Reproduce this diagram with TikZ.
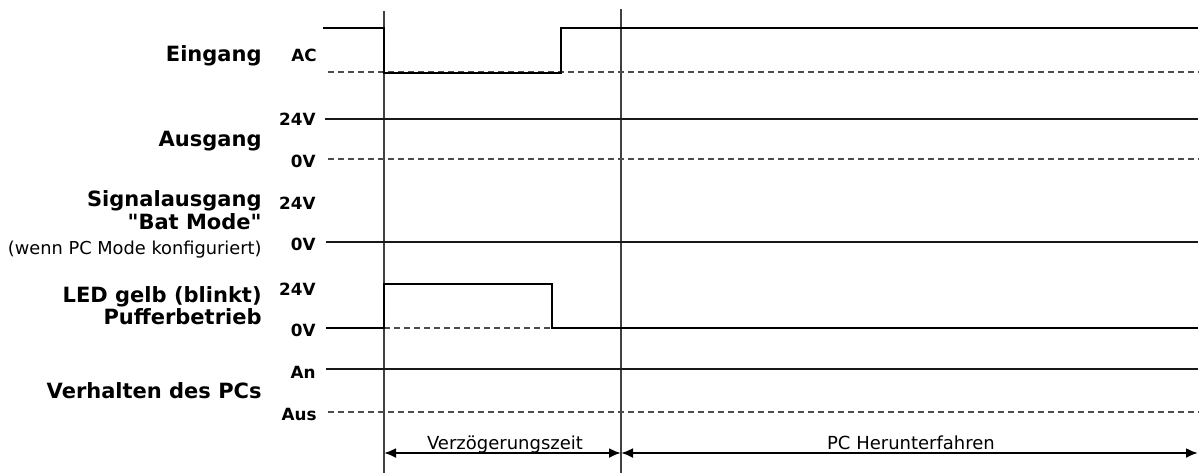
\documentclass[tikz,border=0pt]{standalone}
\usepackage{fontspec}
\setmainfont{DejaVu Sans}
\newfontfamily\quotefont{DejaVu Sans}
\usetikzlibrary{arrows.meta}

\begin{document}
\begin{tikzpicture}[x=0.5pt,y=-0.5pt,
    wave/.style={line width=1.4pt,line join=miter},
    hiLine/.style={line width=1.3pt,black!90},
    zeroLine/.style={line width=1.1pt,dash pattern=on 3pt off 2pt,black!70},
    tmark/.style={line width=1pt,black!75},
    sigName/.style={anchor=east,inner sep=0pt,text height=0.73em,text depth=0pt,
        font=\fontsize{10.5}{12}\selectfont\bfseries},
    lvlName/.style={anchor=east,inner sep=0pt,text height=0.73em,text depth=0pt,
        font=\fontsize{8.4}{10}\selectfont\bfseries},
    noteName/.style={anchor=east,inner sep=0pt,text height=0.73em,text depth=0pt,
        font=\fontsize{8.9}{10}\selectfont},
    timespan/.style={line width=1.1pt,{Latex[length=6pt,width=5pt]}-{Latex[length=6pt,width=5pt]}},
    spanName/.style={inner sep=0pt,text height=0.73em,text depth=0pt,
        font=\fontsize{9}{11}\selectfont}]

    \useasboundingbox (0,0) rectangle (1199,473);

    % Time marks
    \coordinate (tA) at (384,11);
    \coordinate (tB) at (621,9);
    \draw[tmark] (tA) -- (384,473);
    \draw[tmark] (tB) -- (621,473);

    % Eingang
    \node[sigName] (eingang) at (262,54) {Eingang};
    \node[lvlName] (eAC) at (317,54) {AC};
    \draw[zeroLine] (328,72) -- (1199,72);
    \draw[wave] (323,28) -- (384,28) -- (384,73) -- (561,73) -- (561,28) -- (1198,28);

    % Ausgang
    \node[sigName] (ausgang) at (262,139) {Ausgang};
    \node[lvlName] (a24) at (316,118) {24V};
    \node[lvlName] (a0) at (316,160) {0V};
    \draw[hiLine] (325,119) -- (1198,119);
    \draw[zeroLine] (328,159) -- (1199,159);

    % Signalausgang "Bat Mode"
    \node[sigName] (signal) at (262,199) {Signalausgang};
    \node[sigName] (batmode) at (262,222) {\quotefont\bfseries "Bat Mode"};
    \node[noteName] (pcmode) at (262,247) {(wenn PC Mode konfiguriert)};
    \node[lvlName] (s24) at (316,202) {24V};
    \node[lvlName] (s0) at (316,243) {0V};
    \draw[hiLine] (326,242) -- (1198,242);

    % LED gelb
    \node[sigName] (led) at (262,295) {LED gelb (blinkt)};
    \node[sigName] (puffer) at (262,317) {Pufferbetrieb};
    \node[lvlName] (l24) at (316,288) {24V};
    \node[lvlName] (l0) at (316,329) {0V};
    \draw[zeroLine] (384,328) -- (552,328);
    \draw[wave] (326,328) -- (384,328) -- (384,284) -- (552,284) -- (552,328) -- (1198,328);

    % Verhalten des PCs
    \node[sigName] (pc) at (262,391) {Verhalten des PCs};
    \node[lvlName] (pAn) at (316,371) {An};
    \node[lvlName] (pAus) at (317,413) {Aus};
    \draw[hiLine] (326,369) -- (1198,369);
    \draw[zeroLine] (328,412) -- (1199,412);

    % Time spans
    \coordinate (s0) at (384,453);
    \coordinate (s1) at (621,453);
    \coordinate (s2) at (1198,453);
    \draw[timespan] (s0) -- (s1);
    \draw[timespan] (s1) -- (s2);
    \node[spanName] (verz) at (505,442) {Verzögerungszeit};
    \node[spanName] (herunter) at (911,442) {PC Herunterfahren};

\end{tikzpicture}
\end{document}
